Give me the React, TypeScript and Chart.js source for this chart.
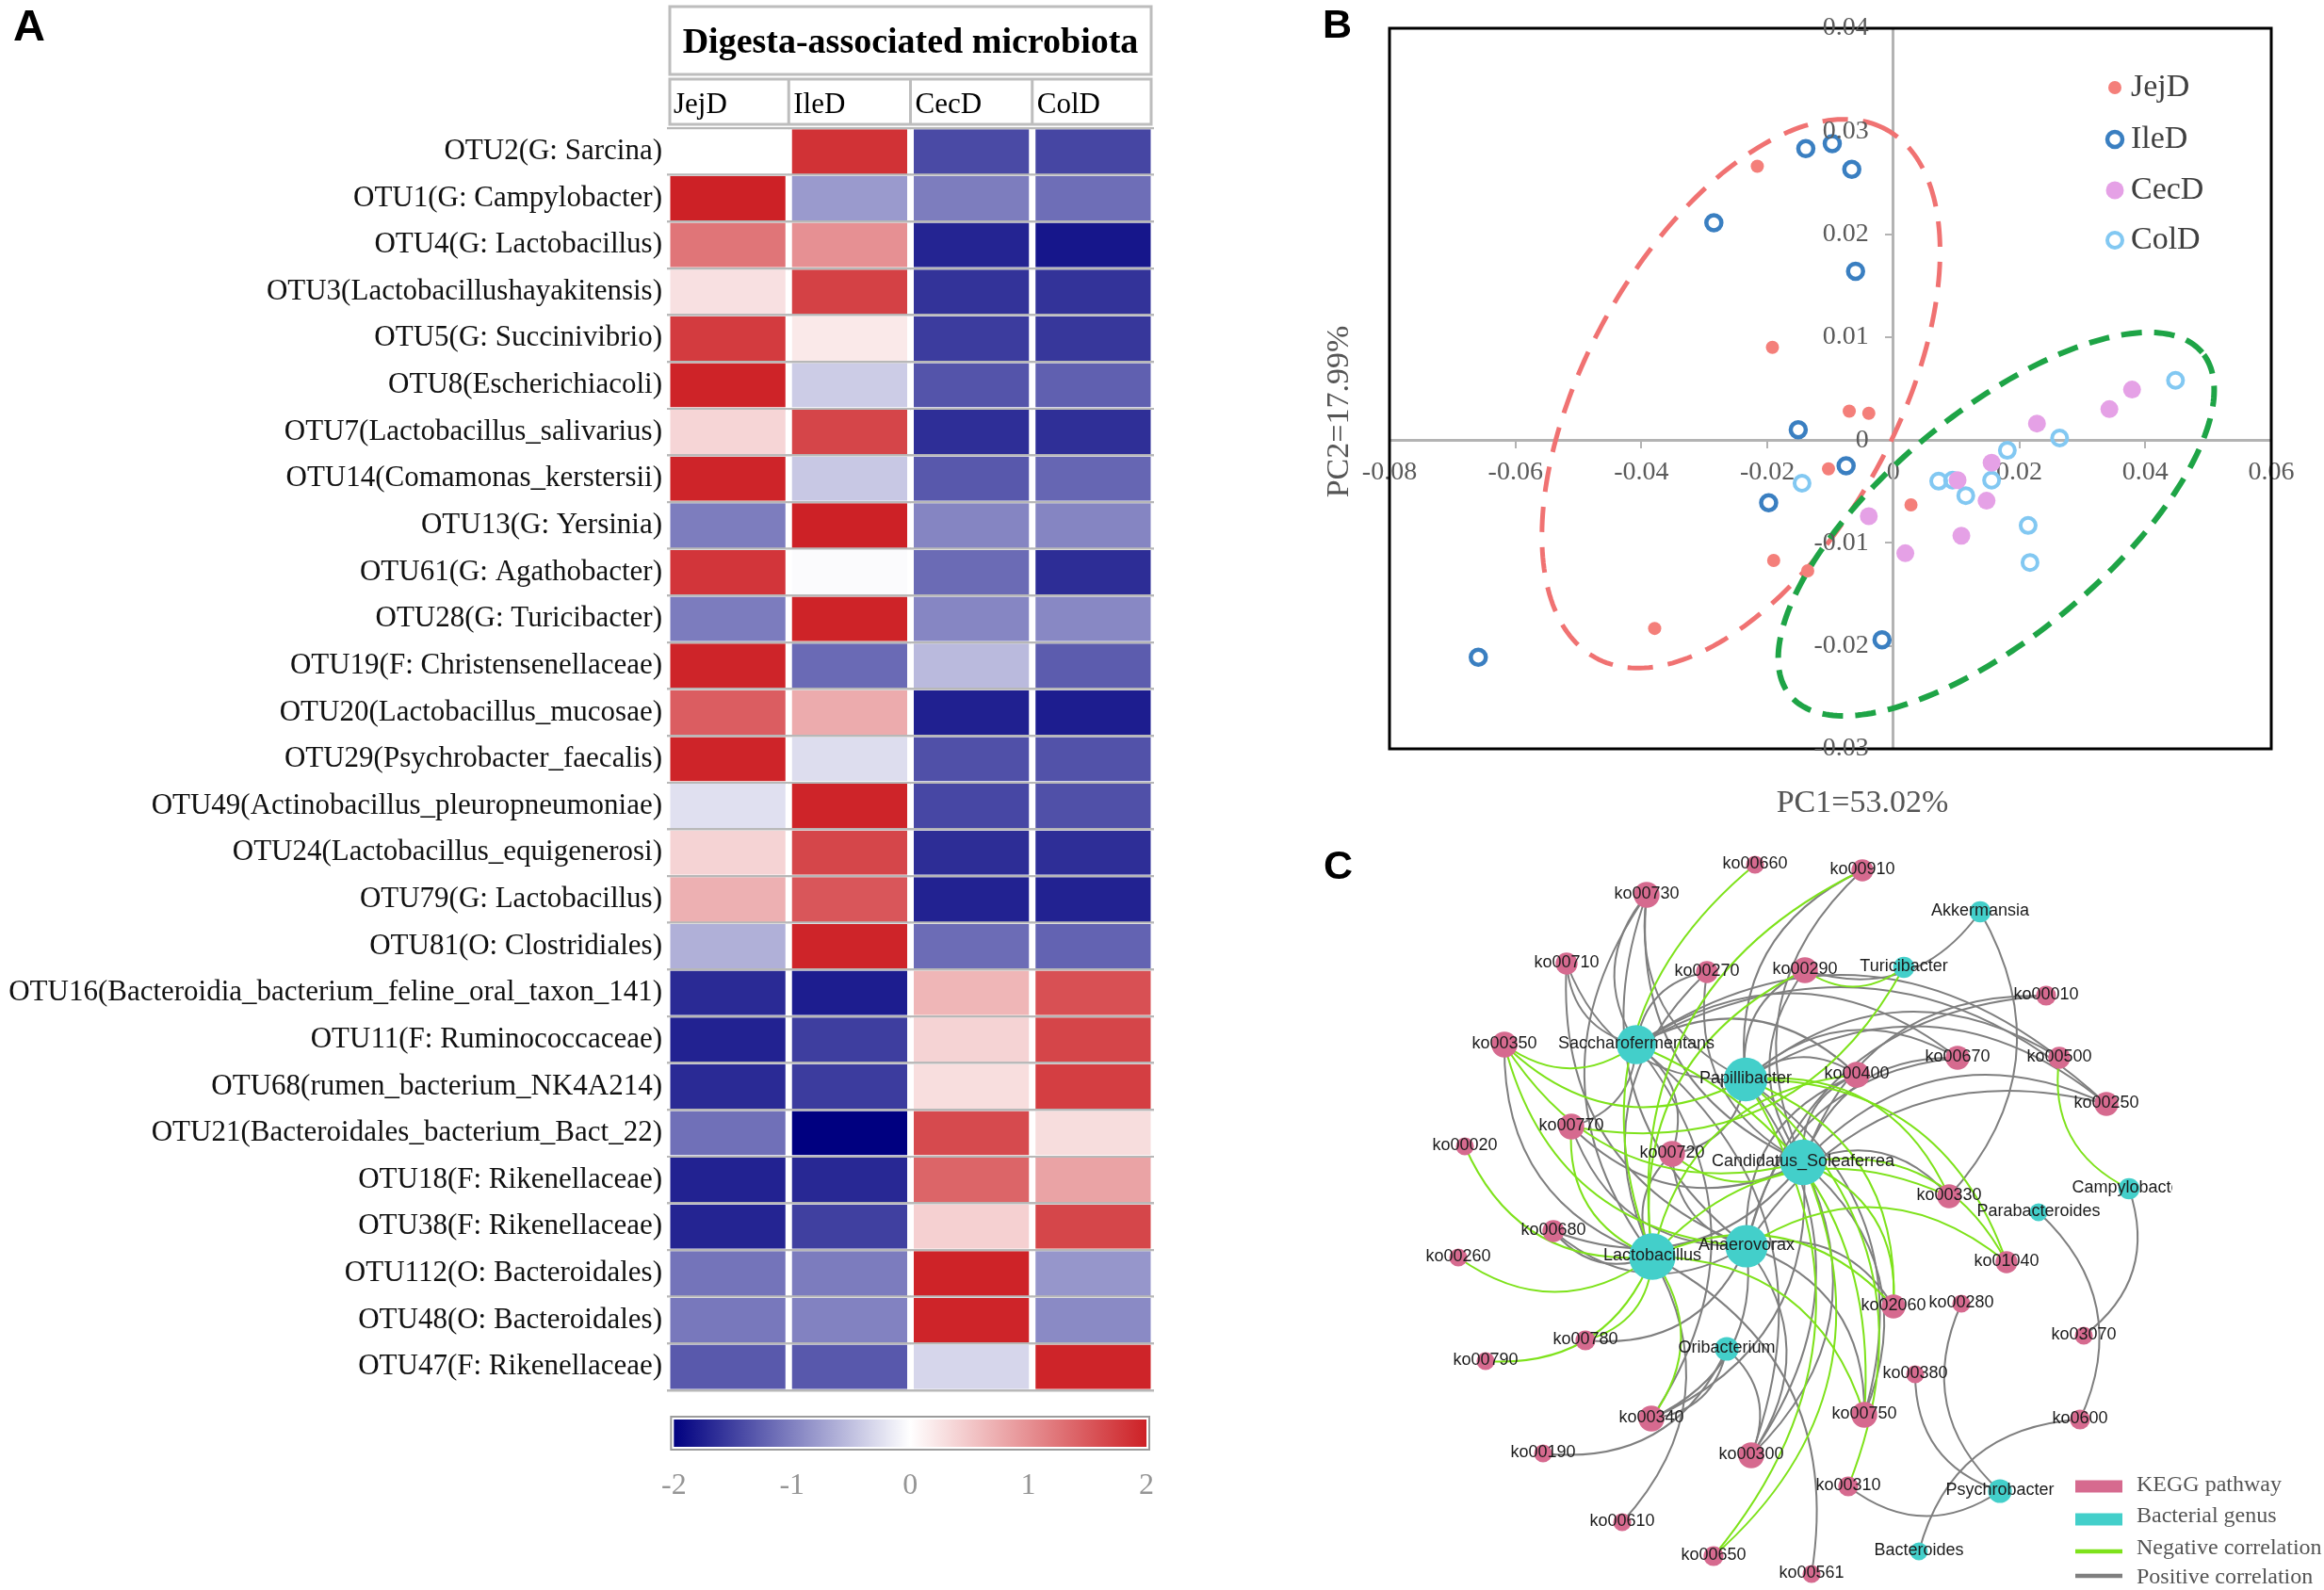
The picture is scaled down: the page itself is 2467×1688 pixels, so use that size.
import React, { useEffect, useRef } from "react";
import { Chart, registerables } from "chart.js";

Chart.register(...registerables);

const SERIF = '"Liberation Serif", "Times New Roman", serif';
const SANS = '"Liberation Sans", Arial, sans-serif';

// ---------------- Panel A : heatmap ----------------
const otuLabels = [
  "OTU2(G: Sarcina)",
  "OTU1(G: Campylobacter)",
  "OTU4(G: Lactobacillus)",
  "OTU3(Lactobacillushayakitensis)",
  "OTU5(G: Succinivibrio)",
  "OTU8(Escherichiacoli)",
  "OTU7(Lactobacillus_salivarius)",
  "OTU14(Comamonas_kerstersii)",
  "OTU13(G: Yersinia)",
  "OTU61(G: Agathobacter)",
  "OTU28(G: Turicibacter)",
  "OTU19(F: Christensenellaceae)",
  "OTU20(Lactobacillus_mucosae)",
  "OTU29(Psychrobacter_faecalis)",
  "OTU49(Actinobacillus_pleuropneumoniae)",
  "OTU24(Lactobacillus_equigenerosi)",
  "OTU79(G: Lactobacillus)",
  "OTU81(O: Clostridiales)",
  "OTU16(Bacteroidia_bacterium_feline_oral_taxon_141)",
  "OTU11(F: Ruminococcaceae)",
  "OTU68(rumen_bacterium_NK4A214)",
  "OTU21(Bacteroidales_bacterium_Bact_22)",
  "OTU18(F: Rikenellaceae)",
  "OTU38(F: Rikenellaceae)",
  "OTU112(O: Bacteroidales)",
  "OTU48(O: Bacteroidales)",
  "OTU47(F: Rikenellaceae)",
];
const sampleGroups = ["JejD", "IleD", "CecD", "ColD"];
const jejDValues = [0.0, 2.0, 1.24, 0.28, 1.77, 1.98, 0.38, 1.97, -1.02, 1.82, -1.03, 1.97, 1.46, 1.97, -0.24, 0.4, 0.71, -0.62, -1.67, -1.73, -1.67, -1.12, -1.73, -1.72, -1.09, -1.06, -1.3];
const ileDValues = [1.85, -0.79, 1.0, 1.71, 0.2, -0.4, 1.68, -0.43, 2.0, -0.03, 1.98, -1.17, 0.76, -0.27, 1.97, 1.67, 1.52, 1.97, -1.77, -1.51, -1.53, -2.0, -1.69, -1.5, -1.03, -0.98, -1.31];
const cecDValues = [-1.42, -1.02, -1.72, -1.6, -1.53, -1.34, -1.64, -1.31, -0.96, -1.16, -0.95, -0.54, -1.75, -1.37, -1.44, -1.65, -1.73, -1.15, 0.66, 0.4, 0.3, 1.63, 1.39, 0.42, 1.98, 1.97, -0.32];
const colDValues = [-1.45, -1.14, -1.83, -1.6, -1.57, -1.25, -1.63, -1.2, -0.96, -1.65, -0.93, -1.28, -1.77, -1.36, -1.37, -1.64, -1.73, -1.22, 1.58, 1.68, 1.74, 0.31, 0.83, 1.67, -0.82, -0.92, 1.97];
const colorbarTicks = [-2, -1, 0, 1, 2];

// ---------------- Panel B : PCA ----------------
const pc1Ticks = [-0.08, -0.06, -0.04, -0.02, 0, 0.02, 0.04, 0.06];
const pc2Ticks = [-0.03, -0.02, -0.01, 0, 0.01, 0.02, 0.03, 0.04];
const jejDScores = [
  { x: -0.0216, y: 0.0266 }, { x: -0.0192, y: 0.009 }, { x: -0.007, y: 0.0028 },
  { x: -0.0039, y: 0.0026 }, { x: -0.0103, y: -0.0028 }, { x: 0.0028, y: -0.0063 },
  { x: -0.019, y: -0.0117 }, { x: -0.0136, y: -0.0127 }, { x: -0.0379, y: -0.0183 },
];
const ileDScores = [
  { x: -0.0139, y: 0.0283 }, { x: -0.0097, y: 0.0288 }, { x: -0.0066, y: 0.0263 },
  { x: -0.0285, y: 0.0211 }, { x: -0.006, y: 0.0164 }, { x: -0.0151, y: 0.001 },
  { x: -0.0075, y: -0.0025 }, { x: -0.0198, y: -0.0061 }, { x: -0.0018, y: -0.0194 },
  { x: -0.0659, y: -0.0211 },
];
const cecDScores = [
  { x: 0.0379, y: 0.0049 }, { x: 0.0343, y: 0.003 }, { x: 0.0228, y: 0.0016 },
  { x: 0.0156, y: -0.0022 }, { x: 0.0148, y: -0.0059 }, { x: 0.0102, y: -0.0039 },
  { x: -0.0039, y: -0.0074 }, { x: 0.0108, y: -0.0093 }, { x: 0.0019, y: -0.011 },
];
const colDScores = [
  { x: 0.0448, y: 0.0058 }, { x: 0.0264, y: 0.0002 }, { x: 0.0181, y: -0.001 },
  { x: 0.0156, y: -0.0039 }, { x: 0.0072, y: -0.004 }, { x: 0.0094, y: -0.0039 },
  { x: 0.0115, y: -0.0054 }, { x: 0.0214, y: -0.0083 }, { x: 0.0217, y: -0.0119 },
  { x: -0.0145, y: -0.0042 },
];
// confidence ellipses: centre and two conjugate semi-axes (data units)
const smallIntestineEllipse = { center: [-0.02419, 0.0045], axisA: [0.02313, 0.02564], axisB: [-0.02154, 0.00729] };
const largeIntestineEllipse = { center: [0.01633, -0.00817], axisA: [0.03271, 0.01666], axisB: [-0.01131, 0.00832] };

// ---------------- Panel C : network (layout coordinates) ----------------
const keggPathways: [string, number, number][] = [
  ["ko00660", 463, 38], ["ko00910", 577, 44], ["ko00730", 348, 70], ["ko00710", 263, 143],
  ["ko00270", 412, 152], ["ko00290", 516, 150], ["ko00010", 772, 177], ["ko00350", 197, 229],
  ["ko00670", 678, 243], ["ko00500", 786, 243], ["ko00400", 571, 261], ["ko00250", 836, 292],
  ["ko00770", 268, 316], ["ko00020", 155, 337], ["ko00720", 375, 345], ["ko00330", 669, 390],
  ["ko00680", 249, 427], ["ko00260", 148, 455], ["ko01040", 730, 460], ["ko02060", 610, 507],
  ["ko00280", 682, 504], ["ko03070", 812, 538], ["ko00780", 283, 543], ["ko00790", 177, 565],
  ["ko00380", 633, 579], ["ko00340", 353, 626], ["ko00750", 579, 622], ["ko0600", 808, 627],
  ["ko00190", 238, 663], ["ko00300", 459, 665], ["ko00310", 562, 698], ["ko00610", 322, 736],
  ["ko00650", 419, 772], ["ko00561", 523, 791],
];
const bacterialGenera: [string, number, number][] = [
  ["Akkermansia", 702, 88], ["Turicibacter", 621, 147], ["Saccharofermentans", 337, 229],
  ["Papillibacter", 453, 266], ["Candidatus_Soleaferrea", 514, 354], ["Campylobacter", 860, 382],
  ["Parabacteroides", 764, 407], ["Lactobacillus", 354, 454], ["Anaerovorax", 454, 443],
  ["Oribacterium", 433, 552], ["Psychrobacter", 723, 703], ["Bacteroides", 637, 767],
];
const negativeLinks: [string, string][] = [
  ["ko00660", "Lactobacillus"], ["ko00910", "Lactobacillus"], ["ko00290", "Turicibacter"],
  ["ko00290", "Lactobacillus"], ["ko00350", "Saccharofermentans"], ["ko00350", "Papillibacter"],
  ["ko00350", "Candidatus_Soleaferrea"], ["ko00350", "Anaerovorax"], ["ko00500", "Campylobacter"],
  ["ko00400", "Lactobacillus"], ["ko00770", "Turicibacter"], ["ko00770", "Lactobacillus"],
  ["ko00020", "Lactobacillus"], ["ko00720", "Candidatus_Soleaferrea"], ["ko00330", "Lactobacillus"],
  ["ko00330", "Papillibacter"], ["ko00260", "Lactobacillus"], ["ko01040", "Papillibacter"],
  ["ko01040", "Candidatus_Soleaferrea"], ["ko01040", "Anaerovorax"], ["ko02060", "Papillibacter"],
  ["ko02060", "Candidatus_Soleaferrea"], ["ko02060", "Lactobacillus"], ["ko00780", "Lactobacillus"],
  ["ko00790", "Lactobacillus"], ["ko00340", "Lactobacillus"], ["ko00750", "Lactobacillus"],
  ["ko00750", "Saccharofermentans"], ["ko00310", "Papillibacter"], ["ko00650", "Candidatus_Soleaferrea"],
  ["ko00650", "Papillibacter"],
];
const positiveLinks: [string, string][] = [
  ["ko00910", "Papillibacter"], ["ko00910", "Candidatus_Soleaferrea"], ["ko00730", "Saccharofermentans"],
  ["ko00730", "Lactobacillus"], ["ko00730", "Papillibacter"], ["ko00730", "Candidatus_Soleaferrea"],
  ["ko00730", "Anaerovorax"], ["ko00710", "Saccharofermentans"], ["ko00710", "Papillibacter"],
  ["ko00710", "Anaerovorax"], ["ko00270", "Saccharofermentans"], ["ko00270", "Candidatus_Soleaferrea"],
  ["ko00270", "Lactobacillus"], ["ko00290", "Akkermansia"], ["ko00290", "Papillibacter"],
  ["ko00290", "Candidatus_Soleaferrea"], ["ko00010", "Candidatus_Soleaferrea"], ["ko00010", "Anaerovorax"],
  ["ko00350", "Lactobacillus"], ["ko00670", "Saccharofermentans"], ["ko00670", "Papillibacter"],
  ["ko00670", "Candidatus_Soleaferrea"], ["ko00670", "Anaerovorax"], ["ko00500", "Saccharofermentans"],
  ["ko00500", "Papillibacter"], ["ko00400", "Saccharofermentans"], ["ko00400", "Papillibacter"],
  ["ko00400", "Candidatus_Soleaferrea"], ["ko00400", "Anaerovorax"], ["ko00250", "Saccharofermentans"],
  ["ko00250", "Papillibacter"], ["ko00250", "Candidatus_Soleaferrea"], ["ko00250", "Anaerovorax"],
  ["ko00770", "Saccharofermentans"], ["ko00770", "Candidatus_Soleaferrea"], ["ko00770", "Anaerovorax"],
  ["ko00720", "Saccharofermentans"], ["ko00720", "Papillibacter"], ["ko00720", "Anaerovorax"],
  ["ko00720", "Lactobacillus"], ["ko00330", "Akkermansia"], ["ko00330", "Candidatus_Soleaferrea"],
  ["ko00680", "Lactobacillus"], ["ko00680", "Anaerovorax"], ["ko00680", "Candidatus_Soleaferrea"],
  ["ko02060", "Anaerovorax"], ["ko00280", "Psychrobacter"], ["ko03070", "Campylobacter"],
  ["ko00780", "Anaerovorax"], ["ko00380", "Psychrobacter"], ["ko00340", "Anaerovorax"],
  ["ko00340", "Oribacterium"], ["ko00340", "Candidatus_Soleaferrea"], ["ko00340", "Saccharofermentans"],
  ["ko00750", "Papillibacter"], ["ko00750", "Candidatus_Soleaferrea"], ["ko00750", "Anaerovorax"],
  ["ko0600", "Parabacteroides"], ["ko0600", "Bacteroides"], ["ko00190", "Oribacterium"],
  ["ko00300", "Anaerovorax"], ["ko00300", "Candidatus_Soleaferrea"], ["ko00300", "Oribacterium"],
  ["ko00300", "Papillibacter"], ["ko00300", "Saccharofermentans"], ["ko00310", "Psychrobacter"],
  ["ko00610", "Lactobacillus"], ["ko00561", "Lactobacillus"],
];

// ---------------- styles ----------------
const KEGG_COLOR = "#d66a8f";
const GENUS_COLOR = "#43cfca";
const NEG_COLOR = "#7ee21b";
const POS_COLOR = "#7f7f7f";

function divergingColor(v: number): string {
  const navy = [0, 0, 128];
  const white = [255, 255, 255];
  const red = [205, 33, 38];
  const t = Math.min(1, Math.abs(v) / 2);
  const end = v < 0 ? navy : red;
  const c = white.map((w, i) => Math.round(w + (end[i] - w) * t));
  return `rgb(${c[0]},${c[1]},${c[2]})`;
}

const baseOptions: any = {
  animation: false,
  responsive: false,
  devicePixelRatio: 1,
  events: [],
  plugins: { legend: { display: false }, tooltip: { enabled: false } },
};

// ---------------- chart factories ----------------
function makeHeatmap(canvas: HTMLCanvasElement) {
  const columns = [jejDValues, ileDValues, cecDValues, colDValues];
  const headerPlugin = {
    id: "heatHeader",
    afterDraw(chart: any) {
      const { ctx, scales } = chart;
      const x = scales.x;
      const x0 = x.getPixelForValue(0) + 3;
      const x4 = x.getPixelForValue(4) - 3;
      ctx.save();
      ctx.strokeStyle = "#bdbdbd";
      ctx.lineWidth = 3;
      ctx.strokeRect(x0, 7, x4 - x0, 72);
      ctx.strokeRect(x0, 84, x4 - x0, 48);
      for (let j = 1; j < 4; j++) {
        const px = x.getPixelForValue(j);
        ctx.beginPath();
        ctx.moveTo(px, 84);
        ctx.lineTo(px, 132);
        ctx.stroke();
      }
      ctx.fillStyle = "#000";
      ctx.font = `bold 38px ${SERIF}`;
      ctx.textAlign = "center";
      ctx.textBaseline = "alphabetic";
      ctx.fillText("Digesta-associated microbiota", (x0 + x4) / 2, 56);
      ctx.font = `31px ${SERIF}`;
      ctx.textAlign = "left";
      sampleGroups.forEach((g, j) => {
        ctx.fillText(g, x.getPixelForValue(j) + (j === 0 ? 7 : 5), 120);
      });
      ctx.restore();
    },
  };
  return new Chart(canvas, {
    type: "bar",
    data: {
      labels: otuLabels,
      datasets: columns.map((vals, j) => ({
        label: sampleGroups[j],
        data: vals.map(() => [j, j + 1]),
        backgroundColor: vals.map(divergingColor),
        borderColor: "#ffffff",
        borderWidth: { left: 3.5, right: 3.5, top: 0, bottom: 0 },
        borderSkipped: false,
        grouped: false,
        barPercentage: 1,
        categoryPercentage: 0.95,
      })),
    } as any,
    options: {
      ...baseOptions,
      indexAxis: "y",
      layout: { padding: { left: 0, right: 6, top: 136, bottom: 212 } },
      scales: {
        x: { type: "linear", min: 0, max: 4, display: false },
        y: {
          type: "category",
          offset: true,
          grid: { display: true, offset: true, color: "#b8b8b8", lineWidth: 2.5, drawTicks: false },
          border: { display: false },
          ticks: { font: { family: SERIF, size: 31 }, color: "#111", padding: 5, autoSkip: false },
          afterFit: (s: any) => {
            s.width = 708;
          },
        },
      },
    },
    plugins: [headerPlugin],
  } as any);
}

function makeColorbar(canvas: HTMLCanvasElement) {
  const gradientPlugin = {
    id: "gradientBar",
    beforeDraw(chart: any) {
      const { ctx, chartArea: a } = chart;
      ctx.save();
      const g = ctx.createLinearGradient(a.left, 0, a.right, 0);
      g.addColorStop(0, divergingColor(-2));
      g.addColorStop(0.25, divergingColor(-1));
      g.addColorStop(0.5, divergingColor(0));
      g.addColorStop(0.75, divergingColor(1));
      g.addColorStop(1, divergingColor(2));
      ctx.fillStyle = g;
      ctx.fillRect(a.left, a.top, a.right - a.left, a.bottom - a.top);
      ctx.strokeStyle = "#9c9c9c";
      ctx.lineWidth = 2;
      ctx.strokeRect(a.left - 3, a.top - 3, a.right - a.left + 6, a.bottom - a.top + 6);
      ctx.restore();
    },
  };
  return new Chart(canvas, {
    type: "scatter",
    data: { datasets: [] },
    options: {
      ...baseOptions,
      layout: { padding: { left: 33, right: 33, top: 17, bottom: 0 } },
      scales: {
        x: {
          type: "linear",
          min: -2,
          max: 2,
          afterBuildTicks: (s: any) => {
            s.ticks = colorbarTicks.map((v) => ({ value: v }));
          },
          ticks: { font: { family: SERIF, size: 32 }, color: "#959595", padding: 22 },
          grid: { display: false, drawTicks: false },
          border: { display: false },
          afterFit: (s: any) => {
            s.height = 74;
          },
        },
        y: { display: false, min: 0, max: 1 },
      },
    },
    plugins: [gradientPlugin],
  } as any);
}

function makePca(canvas: HTMLCanvasElement) {
  const fmt = (v: any) => (Math.abs(Number(v)) < 1e-9 ? "0" : Number(v).toFixed(2));
  const ellipses = [smallIntestineEllipse, largeIntestineEllipse];
  const ellipseStyle = [
    { color: "#f07272", width: 5, dash: [27, 16] },
    { color: "#1ea446", width: 6, dash: [22, 13] },
  ];
  const legendY = [93, 148, 202, 255];
  const decor = {
    id: "pcaDecor",
    beforeDatasetsDraw(chart: any) {
      const { ctx, scales } = chart;
      const { x, y } = scales;
      ctx.save();
      ellipses.forEach((e, i) => {
        ctx.beginPath();
        for (let k = 0; k <= 240; k++) {
          const t = (k / 240) * Math.PI * 2;
          const dx = e.center[0] + e.axisA[0] * Math.cos(t) + e.axisB[0] * Math.sin(t);
          const dy = e.center[1] + e.axisA[1] * Math.cos(t) + e.axisB[1] * Math.sin(t);
          const px = x.getPixelForValue(dx);
          const py = y.getPixelForValue(dy);
          if (k === 0) ctx.moveTo(px, py);
          else ctx.lineTo(px, py);
        }
        ctx.closePath();
        ctx.setLineDash(ellipseStyle[i].dash);
        ctx.lineWidth = ellipseStyle[i].width;
        ctx.strokeStyle = ellipseStyle[i].color;
        ctx.stroke();
      });
      ctx.restore();
    },
    afterDraw(chart: any) {
      const { ctx, chartArea: a, scales } = chart;
      ctx.save();
      ctx.strokeStyle = "#000";
      ctx.lineWidth = 3;
      ctx.strokeRect(a.left, a.top, a.right - a.left, a.bottom - a.top);
      // y tick labels, to the left of the y axis that crosses at x = 0
      const axisX = scales.x.getPixelForValue(0);
      ctx.fillStyle = "#5a5a5a";
      ctx.font = `28px ${SERIF}`;
      ctx.textAlign = "right";
      ctx.textBaseline = "middle";
      pc2Ticks.forEach((v) => {
        ctx.fillText(fmt(v), axisX - 26, scales.y.getPixelForValue(v));
      });
      ctx.fillStyle = "#555";
      ctx.font = `34px ${SERIF}`;
      ctx.textAlign = "center";
      ctx.fillText("PC1=53.02%", a.left + 502, a.bottom + 58);
      ctx.save();
      ctx.translate(a.left - 53, a.top + 407);
      ctx.rotate(-Math.PI / 2);
      ctx.fillText("PC2=17.99%", 0, 0);
      ctx.restore();
      chart.data.datasets.forEach((ds: any, i: number) => {
        const mx = 865;
        const my = legendY[i];
        ctx.beginPath();
        ctx.arc(mx, my, ds.pointRadius, 0, Math.PI * 2);
        if (ds.pointBorderWidth > 0) {
          ctx.lineWidth = ds.pointBorderWidth;
          ctx.strokeStyle = ds.pointBorderColor;
          ctx.stroke();
        } else {
          ctx.fillStyle = ds.pointBackgroundColor;
          ctx.fill();
        }
        ctx.fillStyle = "#404040";
        ctx.font = `34px ${SERIF}`;
        ctx.textAlign = "left";
        ctx.textBaseline = "middle";
        ctx.fillText(ds.label, 882, my);
      });
      ctx.restore();
    },
  };
  const axisGray = "#b3b3b3";
  return new Chart(canvas, {
    type: "scatter",
    data: {
      datasets: [
        { label: "JejD", data: jejDScores, pointRadius: 7, pointBackgroundColor: "#f47f7a", pointBorderColor: "#f47f7a", pointBorderWidth: 0 },
        { label: "IleD", data: ileDScores, pointRadius: 8, pointBackgroundColor: "rgba(0,0,0,0)", pointBorderColor: "#3a7fc1", pointBorderWidth: 4.5 },
        { label: "CecD", data: cecDScores, pointRadius: 9.5, pointBackgroundColor: "#e5a1e6", pointBorderColor: "#e5a1e6", pointBorderWidth: 0 },
        { label: "ColD", data: colDScores, pointRadius: 8, pointBackgroundColor: "rgba(0,0,0,0)", pointBorderColor: "#82c8f2", pointBorderWidth: 4 },
      ],
    },
    options: {
      ...baseOptions,
      layout: { autoPadding: false, padding: { left: 95, right: 56, top: 30, bottom: 85 } },
      scales: {
        x: {
          type: "linear",
          min: -0.08,
          max: 0.06,
          position: { y: 0 },
          afterBuildTicks: (s: any) => {
            s.ticks = pc1Ticks.map((v) => ({ value: v }));
          },
          ticks: { callback: fmt, font: { family: SERIF, size: 28 }, color: "#5a5a5a", padding: 11, maxRotation: 0, autoSkip: false },
          grid: { drawOnChartArea: false, color: axisGray, lineWidth: 2, tickLength: 7 },
          border: { color: axisGray, width: 3 },
        },
        y: {
          type: "linear",
          min: -0.03,
          max: 0.04,
          position: { x: 0 },
          afterBuildTicks: (s: any) => {
            s.ticks = pc2Ticks.map((v) => ({ value: v }));
          },
          ticks: { display: false },
          grid: { drawOnChartArea: false, color: axisGray, lineWidth: 2, tickLength: 7 },
          border: { color: axisGray, width: 3 },
        },
      },
    },
    plugins: [decor],
  } as any);
}

function makeNetwork(canvas: HTMLCanvasElement) {
  const allLinks = [
    ...positiveLinks.map((l) => [l[0], l[1], "pos"]),
    ...negativeLinks.map((l) => [l[0], l[1], "neg"]),
  ];
  const degree = (n: string) => allLinks.filter((l) => l[0] === n || l[1] === n).length;
  const pos = new Map<string, { x: number; y: number }>();
  [...keggPathways, ...bacterialGenera].forEach(([n, x, y]) => pos.set(n, { x, y }));

  const edgePlugin = {
    id: "edges",
    beforeDatasetsDraw(chart: any) {
      const { ctx, scales } = chart;
      const { x, y } = scales;
      ctx.save();
      ctx.lineWidth = 2;
      ["pos", "neg"].forEach((sign) => {
        ctx.strokeStyle = sign === "neg" ? NEG_COLOR : POS_COLOR;
        allLinks
          .filter((l) => l[2] === sign)
          .forEach(([s, t]) => {
            const a = pos.get(s)!;
            const b = pos.get(t)!;
            const ax = x.getPixelForValue(a.x);
            const ay = y.getPixelForValue(a.y);
            const bx = x.getPixelForValue(b.x);
            const by = y.getPixelForValue(b.y);
            const dx = bx - ax;
            const dy = by - ay;
            const k = 0.36;
            const cx = (ax + bx) / 2 - dy * k;
            const cy = (ay + by) / 2 + dx * k;
            ctx.beginPath();
            ctx.moveTo(ax, ay);
            ctx.quadraticCurveTo(cx, cy, bx, by);
            ctx.stroke();
          });
      });
      ctx.restore();
    },
    afterDatasetsDraw(chart: any) {
      const { ctx, scales } = chart;
      const { x, y } = scales;
      ctx.save();
      ctx.beginPath();
      ctx.rect(0, 0, x.getPixelForValue(906), chart.height);
      ctx.clip();
      ctx.fillStyle = "#1c1c1c";
      ctx.font = `18px ${SANS}`;
      ctx.textAlign = "center";
      ctx.textBaseline = "middle";
      [...keggPathways, ...bacterialGenera].forEach(([n, px, py]) => {
        ctx.fillText(n, x.getPixelForValue(px), y.getPixelForValue(py) - 1);
      });
      ctx.restore();
    },
    afterDraw(chart: any) {
      const { ctx } = chart;
      ctx.save();
      const items = [
        { label: "KEGG pathway", kind: "rect", color: KEGG_COLOR, y: 698, ty: 697 },
        { label: "Bacterial genus", kind: "rect", color: GENUS_COLOR, y: 733, ty: 730 },
        { label: "Negative correlation", kind: "line", color: NEG_COLOR, y: 767, ty: 764 },
        { label: "Positive correlation", kind: "line", color: POS_COLOR, y: 793, ty: 795 },
      ];
      items.forEach((it) => {
        ctx.fillStyle = it.color;
        if (it.kind === "rect") ctx.fillRect(803, it.y - 6.5, 50, 13);
        else ctx.fillRect(803, it.y - 2.25, 50, 4.5);
        ctx.fillStyle = "#555";
        ctx.font = `24px ${SERIF}`;
        ctx.textAlign = "left";
        ctx.textBaseline = "middle";
        ctx.fillText(it.label, 868, it.ty);
      });
      ctx.restore();
    },
  };

  return new Chart(canvas, {
    type: "scatter",
    data: {
      datasets: [
        {
          label: "Bacterial genus",
          data: bacterialGenera.map(([, x, y]) => ({ x, y })),
          pointRadius: bacterialGenera.map(([n]) => 5 + 4.4 * Math.sqrt(degree(n))),
          pointBackgroundColor: GENUS_COLOR,
          pointBorderWidth: 0,
        },
        {
          label: "KEGG pathway",
          data: keggPathways.map(([, x, y]) => ({ x, y })),
          pointRadius: keggPathways.map(([n]) => 8.5 + 1.05 * degree(n)),
          pointBackgroundColor: KEGG_COLOR,
          pointBorderWidth: 0,
        },
      ],
    },
    options: {
      ...baseOptions,
      layout: { autoPadding: false, padding: 0 },
      scales: {
        x: { type: "linear", min: 0, max: 1067, display: false },
        y: { type: "linear", min: 0, max: 808, reverse: true, display: false },
      },
    },
    plugins: [edgePlugin],
  } as any);
}

// ---------------- React ----------------
function ChartBox(props: { left: number; top: number; width: number; height: number; factory: (c: HTMLCanvasElement) => Chart }) {
  const ref = useRef<HTMLCanvasElement | null>(null);
  useEffect(() => {
    if (!ref.current) return;
    const chart = props.factory(ref.current);
    return () => chart.destroy();
  }, []);
  return (
    <canvas
      ref={ref}
      width={props.width}
      height={props.height}
      style={{ position: "absolute", left: props.left, top: props.top, width: props.width, height: props.height, display: "block" }}
    />
  );
}

const letterStyle = (left: number, top: number, size: number): React.CSSProperties => ({
  position: "absolute",
  left,
  top,
  fontFamily: SANS,
  fontWeight: "bold",
  fontSize: size,
  lineHeight: `${size}px`,
  color: "#000",
});

export default function App() {
  return (
    <div style={{ position: "absolute", left: 0, top: 0, width: 2467, height: 1688, background: "#fff", overflow: "hidden" }}>
      <ChartBox left={0} top={0} width={1231} height={1688} factory={makeHeatmap} />
      <ChartBox left={680} top={1490} width={570} height={120} factory={makeColorbar} />
      <ChartBox left={1380} top={0} width={1087} height={880} factory={makePca} />
      <ChartBox left={1400} top={880} width={1067} height={808} factory={makeNetwork} />
      <div style={letterStyle(14, 3, 47)}>A</div>
      <div style={letterStyle(1404, 4, 43)}>B</div>
      <div style={letterStyle(1405, 897, 43)}>C</div>
    </div>
  );
}
